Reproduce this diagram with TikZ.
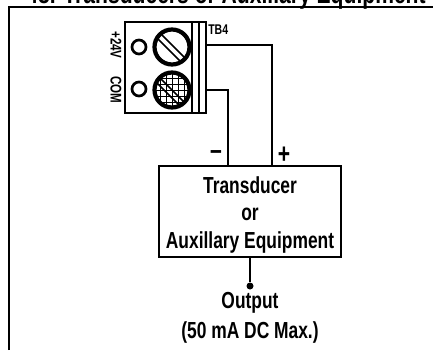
\documentclass[tikz,border=0pt]{standalone}
\usepackage{fontspec}
\setmainfont[FakeStretch=0.75]{Liberation Sans}
\newdimen\pxu
\pxu=0.025cm
\tikzset{
  lbl/.style={font=\bfseries\fontsize{#1}{#1}\selectfont, inner sep=0pt},
  lbl/.default=16.5,
  wire/.style={line width=1.5pt},
  screwhead/.style={circle, draw, line width=3pt, minimum size=35\pxu, inner sep=0pt},
  ring/.style={circle, draw, line width=1.9pt, minimum size=14\pxu, inner sep=0pt}
}
\begin{document}
\begin{tikzpicture}[x=0.025cm,y=-0.025cm]
  \useasboundingbox (0,0) rectangle (433,350);
  % frame and heading
  \draw[line width=1.5pt] (9,350) -- (9,7) -- (433,7);
  \node[lbl=20, anchor=base] (title) at (226,3) {48. Transducers or Auxiliary Equipment};
  % terminal block
  \draw[line width=1.5pt] (125,22) rectangle (206,113);
  \draw[line width=1.2pt] (192,22) -- (192,113);
  \draw[line width=0.8pt] (199,22) -- (199,113);
  \node[ring] (ringa) at (139,47) {};
  \node[ring] (ringb) at (139,89) {};
  \node[screwhead] (screwa) at (172,47) {};
  \node[screwhead] (screwb) at (172,90) {};
  \draw[line width=1.2pt] (162,35) -- (185,58);
  \draw[line width=1.2pt] (158,39) -- (180,61);
  % cross hatch of the lower screw
  \begin{scope}
    \clip (screwb) circle (17);
    \foreach \i in {-18,-12,...,18} {
      \draw[line width=0.7pt] (172+\i,72) -- (172+\i,108);
      \draw[line width=0.7pt] (154,90+\i) -- (190,90+\i);
    }
    \draw[line width=1.2pt] (160,78) -- (184,102);
    \draw[line width=1.2pt] (156,82) -- (180,106);
  \end{scope}
  \node[lbl=11, rotate=-90] (vplus) at (116,45) {+24V};
  \node[lbl=11, rotate=-90] (vcom) at (116,90) {COM};
  \node[lbl=10, anchor=west] (tb) at (208,30) {TB4};
  % transducer box
  \node[draw, line width=1.5pt, minimum width=182\pxu, minimum height=91\pxu, inner sep=0pt] (box) at (250,211.5) {};
  \node[lbl] (linea) at (250,185) {Transducer};
  \node[lbl] (lineb) at (250,214) {or};
  \node[lbl] (linec) at (250,242) {Auxillary Equipment};
  \node[lbl=20] (minus) at (216,155) {--};
  \node[lbl=20] (plus) at (284,155) {+};
  % wiring
  \coordinate (termb) at (206,90);
  \coordinate (terma) at (206,45);
  \draw[wire] (termb) -- (228,90) -- (228,166);
  \draw[wire] (terma) -- (272,45) -- (272,166);
  \node[circle, fill, inner sep=0pt, minimum size=7\pxu] (dot) at (250,286) {};
  \draw[wire] (box.south) -- (dot);
  \node[lbl] (outa) at (250,303) {Output};
  \node[lbl] (outb) at (250,332) {(50 mA DC Max.)};
\end{tikzpicture}
\end{document}
